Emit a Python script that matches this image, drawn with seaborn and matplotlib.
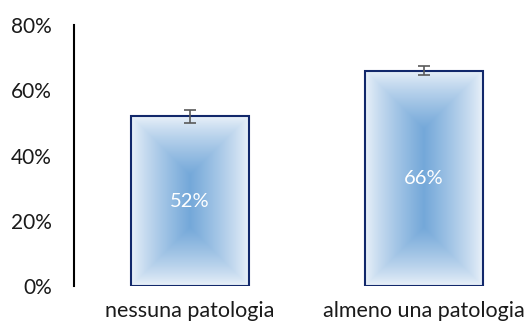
import numpy as np
import pandas as pd
import seaborn as sns
import matplotlib.pyplot as plt
from matplotlib.colors import to_rgb

categories = ["nessuna patologia", "almeno una patologia"]
values = [52, 66]
errors = [2.0, 1.3]
y_ticks = [0, 20, 40, 60, 80]

EDGE = np.array(to_rgb("#edf3fa"))
CENTER = np.array(to_rgb("#74a8d9"))


def gradient_fill(ax, patch):
    """Rectangular gradient from the edges (light) to the centre (blue)"""
    x0, y0 = patch.get_x(), patch.get_y()
    w, h = patch.get_width(), patch.get_height()
    # size in pixels so the diagonals meet at 45 degrees
    (px0, py0), (px1, py1) = ax.transData.transform([(x0, y0), (x0 + w, y0 + h)])
    wp, hp = int(abs(px1 - px0)), int(abs(py1 - py0))
    xs = np.arange(wp) + 0.5
    ys = np.arange(hp) + 0.5
    X, Y = np.meshgrid(xs, ys)
    d = np.minimum.reduce([X, wp - X, Y, hp - Y]) / (wp / 2)
    t = np.clip(d, 0, 1) ** 0.8
    img = EDGE + (CENTER - EDGE) * t[..., None]
    im = ax.imshow(img, extent=(x0, x0 + w, y0, y0 + h), origin="lower",
                   aspect="auto", zorder=1, interpolation="bilinear")
    im.set_clip_path(patch)


df = pd.DataFrame({"cat": categories, "val": values})

sns.set_style("white")
plt.rcParams["font.family"] = ["Lato", "DejaVu Sans"]

fig = plt.figure(figsize=(5.28, 3.25), dpi=100)
ax = fig.add_axes([0.1402, 0.12, 0.8845, 0.803])

sns.barplot(data=df, x="cat", y="val", width=0.504, errorbar=None,
            facecolor="none", edgecolor="#12286b", linewidth=1.5, ax=ax)
ax.set_xlim(-0.496, 1.5)
ax.set_ylim(0, 80)

for p in ax.patches:
    p.set_zorder(2)
    gradient_fill(ax, p)

ax.errorbar(range(len(values)), values, yerr=errors, fmt="none",
            ecolor="#5a5a5a", elinewidth=1.2, capsize=4.5, capthick=1.2, zorder=3)

for i, v in enumerate(values):
    ax.text(i, v / 2, f"{v}%", ha="center", va="center", color="white",
            fontsize=14.5, zorder=4)

ax.set_yticks(y_ticks)
ax.set_yticklabels([f"{t}%" for t in y_ticks])
ax.tick_params(axis="both", length=0, labelsize=15, colors="#1a1a1a")
ax.tick_params(axis="x", labelsize=15.5, pad=11)
ax.tick_params(axis="y", pad=16)
ax.set_xlabel("")
ax.set_ylabel("")
for s in ["top", "right", "bottom"]:
    ax.spines[s].set_visible(False)
ax.spines["left"].set_color("black")
ax.spines["left"].set_linewidth(1.5)

fig.savefig("out.png", dpi=100)
